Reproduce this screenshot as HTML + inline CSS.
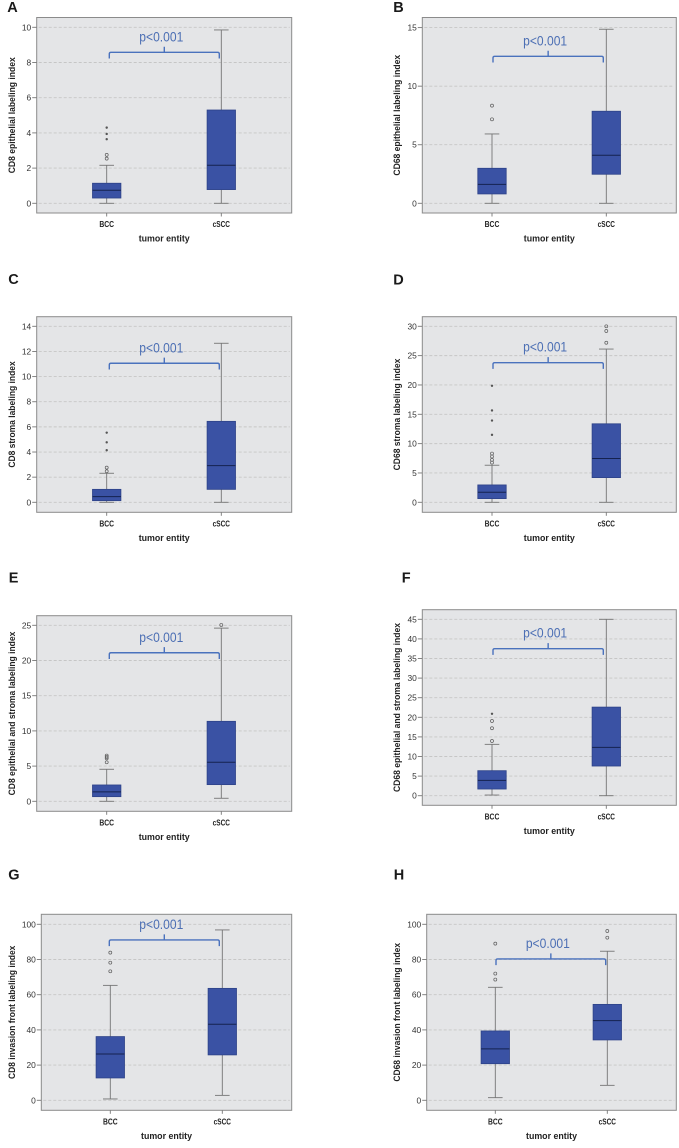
<!DOCTYPE html>
<html lang="en">
<head>
<meta charset="utf-8">
<title>Labeling index boxplots by tumor entity</title>
<style>
html,body{margin:0;padding:0;background:#fff;}
svg{display:block;font-family:"Liberation Sans",sans-serif;}
</style>
</head>
<body>
<svg id="figure" xmlns="http://www.w3.org/2000/svg" width="679" height="1148" viewBox="0 0 679 1148"></svg>
<script>
// ---- chart data ----
const panelLetters = ['A','B','C','D','E','F','G','H'];
const categories = ['BCC','cSCC'];
const xAxisTitle = 'tumor entity';
const pLabel = 'p<0.001';
const yTitles = [
  'CD8 epithelial labeling index',
  'CD68 epithelial labeling index',
  'CD8 stroma labeling index',
  'CD68 stroma labeling index',
  'CD8 epithelial and stroma labeling index',
  'CD68 epithelial and stroma labeling index',
  'CD8 invasion front labeling index',
  'CD68 invasion front labeling index'
];
const yTickLabels = [
  [0,2,4,6,8,10],
  [0,5,10,15],
  [0,2,4,6,8,10,12,14],
  [0,5,10,15,20,25,30],
  [0,5,10,15,20,25],
  [0,5,10,15,20,25,30,35,40,45],
  [0,20,40,60,80,100],
  [0,20,40,60,80,100]
];
// each entry: [BCC, cSCC]
const whiskerLow = [[0,0],[0,0],[0,0],[0,0],[0,0.43],[0.17,0],[0.76,2.8],[1.5,8.5]];
const quartile1 = [[0.30,0.78],[0.80,2.48],[0.13,1.03],[0.63,4.21],[0.66,2.37],[1.7,7.57],[12.7,25.8],[20.8,34.3]];
const medians = [[0.74,2.16],[1.62,4.10],[0.45,2.92],[1.71,7.46],[1.33,5.54],[3.91,12.33],[26.3,43.2],[29.2,45.3]];
const quartile3 = [[1.14,5.30],[2.99,7.86],[1.03,6.44],[2.96,13.38],[2.32,11.36],[6.38,22.6],[36.2,63.6],[39.4,54.5]];
const whiskerHigh = [[2.16,9.85],[5.92,14.86],[2.31,12.65],[6.32,26.12],[4.55,24.6],[13.1,45],[65.3,96.8],[64.2,84.7]];
const circleOutliers = [
  [[2.54,2.75],[]],
  [[7.17,8.34],[]],
  [[2.47,2.76],[]],
  [[6.77,7.23,7.8,8.31],[27.2,29.2,30]],
  [[5.54,6.1,6.3,6.5],[25.05]],
  [[13.95,17.2,19.05],[]],
  [[73.3,78.2,83.9],[]],
  [[68.6,72,89],[92.4,96.2]]
];
const starOutliers = [
  [[3.64,3.94,4.30],[]],
  [[],[]],
  [[4.14,4.77,5.54],[]],
  [[11.5,13.94,15.65,19.86],[]],
  [[],[]],
  [[20.9],[]],
  [[],[]],
  [[],[]]
];
const bracketLevels = [8.58,12.55,11.06,23.8,21.1,37.5,91.1,80.3];

// ---- page layout (not data) ----
const layouts = [
  {l:36.7,r:291.7,t:17.5,b:213,y0:203.3,yTop:27.3,c0:106.7,c1:221.3,bl:109.3,br:219.3,tx:11.7,lx:7.3,ly:12,len:116},
  {l:422.3,r:676.3,t:17.5,b:213,y0:203.3,yTop:27.6,c0:492,c1:606.3,bl:493,br:603.3,tx:396.7,lx:393.3,ly:12,len:120.7},
  {l:36.7,r:291.7,t:316.7,b:512.3,y0:502.3,yTop:326.3,c0:106.7,c1:221.3,bl:109.3,br:219.3,tx:11.7,lx:8.3,ly:284,len:106.3},
  {l:422.3,r:676.3,t:316.7,b:512.3,y0:502.3,yTop:326.3,c0:492,c1:606.3,bl:493,br:603.3,tx:396.7,lx:393.3,ly:284.3,len:111.7},
  {l:36.7,r:291.7,t:615.7,b:811.3,y0:801.3,yTop:625.3,c0:106.7,c1:221.3,bl:109.3,br:219.3,tx:11.7,lx:8.7,ly:582.3,len:163.7},
  {l:422.3,r:676.3,t:609.7,b:805.3,y0:795.7,yTop:619.3,c0:492,c1:606.3,bl:493,br:603.3,tx:396.7,lx:401.7,ly:582.3,len:169},
  {l:41.3,r:291.7,t:914.3,b:1110.3,y0:1100.3,yTop:924.3,c0:110.3,c1:222.3,bl:109.3,br:219.3,tx:11.7,lx:8.3,ly:879.7,len:133.3},
  {l:426.7,r:676.3,t:914.3,b:1110.3,y0:1100.3,yTop:924.3,c0:495.3,c1:607.3,bl:496,br:605.7,tx:396.7,lx:393.7,ly:879.7,len:138.7}
];
const categoryLabelWidths = [14.7,17.3];

const SVG_NS = 'http://www.w3.org/2000/svg';
const figure = document.getElementById('figure');

function make(parent, tag, attrs, text) {
  const node = document.createElementNS(SVG_NS, tag);
  Object.keys(attrs).forEach(function (k) { node.setAttribute(k, attrs[k]); });
  if (text !== undefined) node.textContent = text;
  parent.appendChild(node);
  return node;
}
function yScale(layout, ticks) {
  const top = ticks[ticks.length - 1];
  return function (v) { return layout.y0 - (v / top) * (layout.y0 - layout.yTop); };
}
function xScale(layout) {
  return function (index) { return index === 0 ? layout.c0 : layout.c1; };
}

panelLetters.forEach(function (letter, p) {
  const L = layouts[p];
  const ticks = yTickLabels[p];
  const y = yScale(L, ticks);
  const x = xScale(L);
  const key = letter.toLowerCase();

  const group = make(figure, 'g', {});
  
  

  const letterEl = make(group, 'text', {x: L.lx, y: L.ly, 'font-size': 14.5, 'font-weight': 'bold', fill: '#1a1a1a'}, letter);
  
  

  const frame = make(group, 'rect', {x: L.l, y: L.t, width: L.r - L.l, height: L.b - L.t, fill: '#e4e5e7', stroke: '#8b8b8b', 'stroke-width': 1});
  
  

  ticks.forEach(function (t) {
    const py = y(t);
    const grid = make(group, 'line', {x1: L.l + 2, x2: L.r - 2, y1: py, y2: py, stroke: '#c6c6c6', 'stroke-width': 0.9, 'stroke-dasharray': '3 2'});
    
    

    const tick = make(group, 'line', {x1: L.l - 4.5, x2: L.l, y1: py, y2: py, stroke: '#777', 'stroke-width': 0.9});
    
    

    const label = make(group, 'text', {x: L.l - 5.5, y: py + 3, 'font-size': 8.4, fill: '#333', 'text-anchor': 'end'}, String(t));
    
    
  });

  const midY = (L.t + L.b) / 2;
  const yTitle = make(group, 'text', {
    x: 0, y: 0, 'font-size': 9.2, 'font-weight': 'bold', fill: '#222', 'text-anchor': 'middle',
    textLength: L.len, lengthAdjust: 'spacingAndGlyphs',
    transform: 'translate(' + (L.tx + 3.2) + ' ' + midY + ') rotate(-90)'
  }, yTitles[p]);
  
  

  categories.forEach(function (cat, c) {
    const cx = x(c);

    const xTick = make(group, 'line', {x1: cx, x2: cx, y1: L.b, y2: L.b + 3.5, stroke: '#777', 'stroke-width': 0.9});
    
    

    const xLabel = make(group, 'text', {x: cx, y: L.b + 14, 'font-size': 8.6, 'font-weight': 'bold', fill: '#222', 'text-anchor': 'middle', textLength: categoryLabelWidths[c], lengthAdjust: 'spacingAndGlyphs'}, cat);
    
    

    const whisker = make(group, 'line', {x1: cx, x2: cx, y1: y(whiskerLow[p][c]), y2: y(whiskerHigh[p][c]), stroke: '#757575', 'stroke-width': 0.9});
    
    

    [whiskerLow[p][c], whiskerHigh[p][c]].forEach(function (v) {
      const cap = make(group, 'line', {x1: cx - 7.3, x2: cx + 7.3, y1: y(v), y2: y(v), stroke: '#757575', 'stroke-width': 0.9});
      
      
    });

    const boxTop = y(quartile3[p][c]);
    const boxBottom = y(quartile1[p][c]);
    const box = make(group, 'rect', {x: cx - 14.2, y: boxTop, width: 28.4, height: boxBottom - boxTop, fill: '#3a52a4', stroke: '#2d4288', 'stroke-width': 0.8});
    
    

    const median = make(group, 'line', {x1: cx - 14.2, x2: cx + 14.2, y1: y(medians[p][c]), y2: y(medians[p][c]), stroke: '#15224f', 'stroke-width': 1});
    
    

    circleOutliers[p][c].forEach(function (v) {
      const dot = make(group, 'circle', {cx: cx, cy: y(v), r: 1.5, fill: 'none', stroke: '#5c5c5c', 'stroke-width': 0.7});
      
      
    });

    starOutliers[p][c].forEach(function (v) {
      const star = make(group, 'circle', {cx: cx, cy: y(v), r: 1.2, fill: '#555'});
      
      
    });
  });

  const xTitle = make(group, 'text', {x: (L.l + L.r) / 2, y: L.b + 28.5, 'font-size': 9.2, 'font-weight': 'bold', fill: '#222', 'text-anchor': 'middle', textLength: 51, lengthAdjust: 'spacingAndGlyphs'}, xAxisTitle);
  
  

  const by = y(bracketLevels[p]);
  const bc = (L.bl + L.br) / 2;
  const bracket = make(group, 'path', {
    d: 'M' + L.bl + ' ' + (by + 6.2) + 'V' + (by + 1.6) + 'Q' + L.bl + ' ' + by + ' ' + (L.bl + 1.6) + ' ' + by +
       'H' + (L.br - 1.6) + 'Q' + L.br + ' ' + by + ' ' + L.br + ' ' + (by + 1.6) + 'V' + (by + 6.2) +
       'M' + bc + ' ' + by + 'V' + (by - 5.6),
    fill: 'none', stroke: '#4a72bd', 'stroke-width': 1.4
  });
  
  

  const pText = make(group, 'text', {x: bc - 3, y: by - 11, 'font-size': 14, fill: '#4c6fb4', 'text-anchor': 'middle', textLength: 44, lengthAdjust: 'spacingAndGlyphs'}, pLabel);
  
  
});
</script>
</body>
</html>
